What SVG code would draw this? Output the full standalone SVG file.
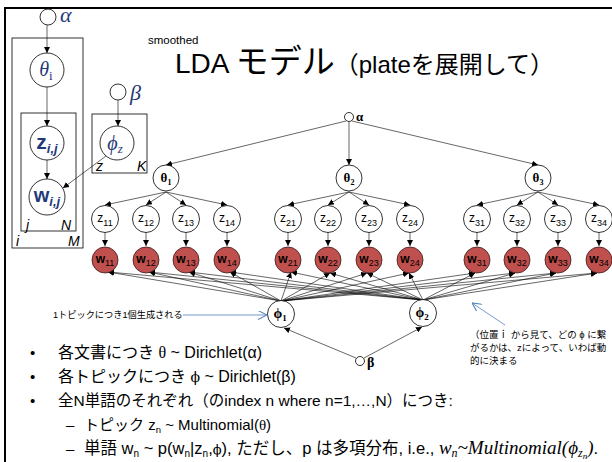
<svg xmlns="http://www.w3.org/2000/svg" width="612" height="462" viewBox="0 0 612 462">
<defs>
<marker id="ah" viewBox="0 0 10 10" refX="10" refY="5" markerWidth="6" markerHeight="6" markerUnits="userSpaceOnUse" orient="auto"><path d="M0,0 L10,5 L0,10 z" fill="#000"/></marker>
<marker id="oa" viewBox="0 0 10 10" refX="10" refY="5" markerWidth="9" markerHeight="9" markerUnits="userSpaceOnUse" orient="auto"><path d="M0,0 L10,5 L0,10" fill="none" stroke="#4F81BD" stroke-width="1.2"/></marker>
</defs>
<style>
.n{fill:#fff;stroke:#000;stroke-width:0.8}
.w{fill:#C0504D;stroke:#3a1a1a;stroke-width:0.8}
.pl{fill:none;stroke:#000;stroke-width:0.8}
.c{stroke:#000;stroke-width:0.6;fill:none;marker-end:url(#ah)}
.blue{stroke:#4F81BD;stroke-width:0.8;fill:none;marker-end:url(#oa)}
.gk{font-family:"Liberation Serif","DejaVu Serif",serif;font-weight:bold;fill:#000}
.zt{font-family:"Liberation Sans","Noto Sans CJK JP",sans-serif;fill:#000}
.pg{font-family:"Liberation Serif","DejaVu Serif",serif;font-style:italic;fill:#1F3A78}
.ps{font-family:"Liberation Sans",sans-serif;font-weight:bold;fill:#1F3A78}
.lb{font-family:"Liberation Sans",sans-serif;font-style:italic;font-size:14px;fill:#000}
.tx{font-family:"Liberation Sans","Noto Sans CJK JP",sans-serif;fill:#000}
.m{font-family:"Liberation Serif","DejaVu Serif",serif;font-style:italic}
</style>
<rect width="612" height="462" fill="#fff"/>
<path d="M5,470 V8 H620" fill="none" stroke="#000" stroke-width="2"/>

<g id="plate-diagram">
<rect class="pl" x="12" y="38" width="71" height="210"/>
<rect class="pl" x="21" y="113" width="55" height="118"/>
<rect class="pl" x="92" y="114" width="55" height="59"/>
<text class="lb" x="16" y="246">i</text>
<text class="lb" x="68" y="246">M</text>
<text class="lb" x="26" y="230">j</text>
<text class="lb" x="61" y="230">N</text>
<text class="lb" x="96" y="171">z</text>
<text class="lb" x="137" y="171">K</text>
<g id="p-alpha"><circle class="n" cx="48" cy="17" r="8"/><text class="pg" x="60" y="22" font-size="22">α</text></g>
<g id="p-theta"><circle class="n" cx="47" cy="70" r="17"/><text class="pg" x="46" y="76" font-size="20" text-anchor="middle">θ<tspan font-size="13" font-style="normal" dy="4">i</tspan></text></g>
<g id="p-z"><circle class="n" cx="47" cy="143" r="17"/><text class="ps" x="47" y="149" font-size="21" text-anchor="middle">z<tspan font-size="13" font-style="italic" dy="4">i,j</tspan></text></g>
<g id="p-w"><circle class="n" cx="47" cy="197" r="18"/><text class="ps" x="47" y="202" font-size="20" text-anchor="middle" font-weight="normal">w<tspan font-size="13" font-style="italic" dy="4">i,j</tspan></text></g>
<g id="p-beta"><circle class="n" cx="118" cy="92" r="8"/><text class="pg" x="130" y="100" font-size="22">β</text></g>
<g id="p-phi"><circle class="n" cx="117" cy="143" r="17"/><text class="pg" x="115" y="150" font-size="20" text-anchor="middle" font-family="DejaVu Serif">ϕ<tspan font-size="13" dy="3">z</tspan></text></g>
<g id="p-edges">
<line class="c" x1="47" y1="25" x2="47" y2="53"/>
<line class="c" x1="47" y1="87" x2="47" y2="126"/>
<line class="c" x1="47" y1="160" x2="47" y2="179"/>
<line class="c" x1="118" y1="100" x2="118" y2="126"/>
<line class="c" x1="106" y1="156" x2="63" y2="188"/>
</g>
</g>

<g id="title">
<text class="tx" x="148" y="44" font-size="11.5">smoothed</text>
<text class="tx" x="175" y="73" font-size="28">LDA <tspan font-size="33">モデル</tspan><tspan font-size="24">（plateを展開して）</tspan></text>
</g>

<g id="connectors">
<line class="c" x1="346" y1="121" x2="166" y2="165"/>
<line class="c" x1="349" y1="122" x2="349" y2="165"/>
<line class="c" x1="352" y1="121" x2="538" y2="165"/>
<line class="c" x1="166" y1="192" x2="105" y2="205"/>
<line class="c" x1="166" y1="192" x2="146" y2="205"/>
<line class="c" x1="166" y1="192" x2="186" y2="205"/>
<line class="c" x1="166" y1="192" x2="227" y2="205"/>
<line class="c" x1="349" y1="192" x2="288" y2="205"/>
<line class="c" x1="349" y1="192" x2="328" y2="205"/>
<line class="c" x1="349" y1="192" x2="369" y2="205"/>
<line class="c" x1="349" y1="192" x2="410" y2="205"/>
<line class="c" x1="538" y1="192" x2="477" y2="205"/>
<line class="c" x1="538" y1="192" x2="517" y2="205"/>
<line class="c" x1="538" y1="192" x2="558" y2="205"/>
<line class="c" x1="538" y1="192" x2="599" y2="205"/>
<g id="zw">
<line class="c" x1="105" y1="232" x2="105" y2="246"/>
<line class="c" x1="146" y1="232" x2="146" y2="246"/>
<line class="c" x1="186" y1="232" x2="186" y2="246"/>
<line class="c" x1="227" y1="232" x2="227" y2="246"/>
<line class="c" x1="288" y1="232" x2="288" y2="246"/>
<line class="c" x1="328" y1="232" x2="328" y2="246"/>
<line class="c" x1="369" y1="232" x2="369" y2="246"/>
<line class="c" x1="410" y1="232" x2="410" y2="246"/>
<line class="c" x1="477" y1="232" x2="477" y2="246"/>
<line class="c" x1="517" y1="232" x2="517" y2="246"/>
<line class="c" x1="558" y1="232" x2="558" y2="246"/>
<line class="c" x1="599" y1="232" x2="599" y2="246"/>
</g>
<g id="phi1-w">
<line class="c" x1="281" y1="301" x2="108" y2="272"/>
<line class="c" x1="281" y1="301" x2="149" y2="272"/>
<line class="c" x1="281" y1="301" x2="189" y2="272"/>
<line class="c" x1="281" y1="301" x2="230" y2="272"/>
<line class="c" x1="281" y1="301" x2="291" y2="272"/>
<line class="c" x1="281" y1="301" x2="330" y2="273"/>
<line class="c" x1="281" y1="301" x2="367" y2="273"/>
<line class="c" x1="281" y1="301" x2="409" y2="273"/>
<line class="c" x1="281" y1="301" x2="475" y2="273"/>
<line class="c" x1="281" y1="301" x2="515" y2="273"/>
<line class="c" x1="281" y1="301" x2="556" y2="273"/>
<line class="c" x1="281" y1="301" x2="597" y2="273"/>
</g>
<g id="phi2-w">
<line class="c" x1="423" y1="300" x2="108" y2="272"/>
<line class="c" x1="423" y1="300" x2="149" y2="272"/>
<line class="c" x1="423" y1="300" x2="189" y2="272"/>
<line class="c" x1="423" y1="300" x2="230" y2="272"/>
<line class="c" x1="423" y1="300" x2="291" y2="272"/>
<line class="c" x1="423" y1="300" x2="330" y2="273"/>
<line class="c" x1="423" y1="300" x2="367" y2="273"/>
<line class="c" x1="423" y1="300" x2="409" y2="273"/>
<line class="c" x1="423" y1="300" x2="475" y2="273"/>
<line class="c" x1="423" y1="300" x2="515" y2="273"/>
<line class="c" x1="423" y1="300" x2="556" y2="273"/>
<line class="c" x1="423" y1="300" x2="597" y2="273"/>
</g>
<line class="c" x1="356" y1="358" x2="284" y2="328"/>
<line class="c" x1="364" y1="358" x2="422" y2="327"/>
<line class="blue" x1="183" y1="315" x2="267" y2="315"/>
<line class="blue" x1="505" y1="325" x2="472" y2="303"/>
</g>

<g id="alpha"><circle class="n" cx="349" cy="117" r="4.5"/><text class="gk" x="356" y="121" font-size="13">α</text></g>
<g id="theta1"><circle class="n" cx="166" cy="178" r="13"/><text class="gk" x="166" y="182" font-size="13" text-anchor="middle">θ<tspan font-size="8" dy="3">1</tspan></text></g>
<g id="theta2"><circle class="n" cx="349" cy="178" r="13"/><text class="gk" x="349" y="182" font-size="13" text-anchor="middle">θ<tspan font-size="8" dy="3">2</tspan></text></g>
<g id="theta3"><circle class="n" cx="538" cy="178" r="13"/><text class="gk" x="538" y="182" font-size="13" text-anchor="middle">θ<tspan font-size="8" dy="3">3</tspan></text></g>

<g id="z11"><circle class="n" cx="105" cy="219" r="13.5"/><text class="zt" x="105" y="222" font-size="12" text-anchor="middle">z<tspan font-size="9" dy="4">11</tspan></text></g>
<g id="z12"><circle class="n" cx="146" cy="219" r="13.5"/><text class="zt" x="146" y="222" font-size="12" text-anchor="middle">z<tspan font-size="9" dy="4">12</tspan></text></g>
<g id="z13"><circle class="n" cx="186" cy="219" r="13.5"/><text class="zt" x="186" y="222" font-size="12" text-anchor="middle">z<tspan font-size="9" dy="4">13</tspan></text></g>
<g id="z14"><circle class="n" cx="227" cy="219" r="13.5"/><text class="zt" x="227" y="222" font-size="12" text-anchor="middle">z<tspan font-size="9" dy="4">14</tspan></text></g>
<g id="z21"><circle class="n" cx="288" cy="219" r="13.5"/><text class="zt" x="288" y="222" font-size="12" text-anchor="middle">z<tspan font-size="9" dy="4">21</tspan></text></g>
<g id="z22"><circle class="n" cx="328" cy="219" r="13.5"/><text class="zt" x="328" y="222" font-size="12" text-anchor="middle">z<tspan font-size="9" dy="4">22</tspan></text></g>
<g id="z23"><circle class="n" cx="369" cy="219" r="13.5"/><text class="zt" x="369" y="222" font-size="12" text-anchor="middle">z<tspan font-size="9" dy="4">23</tspan></text></g>
<g id="z24"><circle class="n" cx="410" cy="219" r="13.5"/><text class="zt" x="410" y="222" font-size="12" text-anchor="middle">z<tspan font-size="9" dy="4">24</tspan></text></g>
<g id="z31"><circle class="n" cx="477" cy="219" r="13.5"/><text class="zt" x="477" y="222" font-size="12" text-anchor="middle">z<tspan font-size="9" dy="4">31</tspan></text></g>
<g id="z32"><circle class="n" cx="517" cy="219" r="13.5"/><text class="zt" x="517" y="222" font-size="12" text-anchor="middle">z<tspan font-size="9" dy="4">32</tspan></text></g>
<g id="z33"><circle class="n" cx="558" cy="219" r="13.5"/><text class="zt" x="558" y="222" font-size="12" text-anchor="middle">z<tspan font-size="9" dy="4">33</tspan></text></g>
<g id="z34"><circle class="n" cx="599" cy="219" r="13.5"/><text class="zt" x="599" y="222" font-size="12" text-anchor="middle">z<tspan font-size="9" dy="4">34</tspan></text></g>

<g id="w11"><circle class="w" cx="105" cy="260" r="13"/><text class="zt" x="105" y="263" font-size="12" text-anchor="middle" font-weight="bold">w<tspan font-size="9" font-weight="normal" dy="3">11</tspan></text></g>
<g id="w12"><circle class="w" cx="146" cy="260" r="13"/><text class="zt" x="146" y="263" font-size="12" text-anchor="middle" font-weight="bold">w<tspan font-size="9" font-weight="normal" dy="3">12</tspan></text></g>
<g id="w13"><circle class="w" cx="186" cy="260" r="13"/><text class="zt" x="186" y="263" font-size="12" text-anchor="middle" font-weight="bold">w<tspan font-size="9" font-weight="normal" dy="3">13</tspan></text></g>
<g id="w14"><circle class="w" cx="227" cy="260" r="13"/><text class="zt" x="227" y="263" font-size="12" text-anchor="middle" font-weight="bold">w<tspan font-size="9" font-weight="normal" dy="3">14</tspan></text></g>
<g id="w21"><circle class="w" cx="288" cy="260" r="13"/><text class="zt" x="288" y="263" font-size="12" text-anchor="middle" font-weight="bold">w<tspan font-size="9" font-weight="normal" dy="3">21</tspan></text></g>
<g id="w22"><circle class="w" cx="328" cy="260" r="13"/><text class="zt" x="328" y="263" font-size="12" text-anchor="middle" font-weight="bold">w<tspan font-size="9" font-weight="normal" dy="3">22</tspan></text></g>
<g id="w23"><circle class="w" cx="369" cy="260" r="13"/><text class="zt" x="369" y="263" font-size="12" text-anchor="middle" font-weight="bold">w<tspan font-size="9" font-weight="normal" dy="3">23</tspan></text></g>
<g id="w24"><circle class="w" cx="410" cy="260" r="13"/><text class="zt" x="410" y="263" font-size="12" text-anchor="middle" font-weight="bold">w<tspan font-size="9" font-weight="normal" dy="3">24</tspan></text></g>
<g id="w31"><circle class="w" cx="477" cy="260" r="13"/><text class="zt" x="477" y="263" font-size="12" text-anchor="middle" font-weight="bold">w<tspan font-size="9" font-weight="normal" dy="3">31</tspan></text></g>
<g id="w32"><circle class="w" cx="517" cy="260" r="13"/><text class="zt" x="517" y="263" font-size="12" text-anchor="middle" font-weight="bold">w<tspan font-size="9" font-weight="normal" dy="3">32</tspan></text></g>
<g id="w33"><circle class="w" cx="558" cy="260" r="13"/><text class="zt" x="558" y="263" font-size="12" text-anchor="middle" font-weight="bold">w<tspan font-size="9" font-weight="normal" dy="3">33</tspan></text></g>
<g id="w34"><circle class="w" cx="599" cy="260" r="13"/><text class="zt" x="599" y="263" font-size="12" text-anchor="middle" font-weight="bold">w<tspan font-size="9" font-weight="normal" dy="3">34</tspan></text></g>

<g id="phi1"><circle class="n" cx="281" cy="314" r="13.5"/><text class="gk" x="280" y="318" font-size="14" text-anchor="middle" font-family="DejaVu Serif">ϕ<tspan font-size="9" dy="3">1</tspan></text></g>
<g id="phi2"><circle class="n" cx="423" cy="313" r="13.5"/><text class="gk" x="422" y="317" font-size="14" text-anchor="middle" font-family="DejaVu Serif">ϕ<tspan font-size="9" dy="3">2</tspan></text></g>
<g id="beta"><circle class="n" cx="360" cy="361" r="4.5"/><text class="gk" x="367" y="367" font-size="14">β</text></g>

<g id="note-left"><text class="tx" x="53" y="318" font-size="9.2">1トピックにつき1個生成される</text></g>
<g id="note-right">
<text class="tx" x="470" y="338" font-size="9.5">（位置ｉ から見て、どの ϕ に繋</text>
<text class="tx" x="470" y="351" font-size="9.5">がるかは、zによって、いわば動</text>
<text class="tx" x="470" y="364" font-size="9.5">的に決まる</text>
</g>

<g id="bullets">
<text class="tx" x="30" y="358" font-size="15">•</text>
<text class="tx" x="58" y="358" font-size="16">各文書につき <tspan font-family="Liberation Serif">θ</tspan> ~ Dirichlet(α)</text>
<text class="tx" x="30" y="382" font-size="15">•</text>
<text class="tx" x="58" y="382" font-size="16">各トピックにつき <tspan font-family="DejaVu Serif" font-size="14">ϕ</tspan> ~ Dirichlet(β)</text>
<text class="tx" x="30" y="406" font-size="15">•</text>
<text class="tx" x="58" y="406" font-size="15.5">全N単語のそれぞれ（のindex n where n=1,…,N）につき:</text>
<text class="tx" x="66" y="430" font-size="15">–</text>
<text class="tx" x="84" y="430" font-size="15">トピック z<tspan font-size="9.5" dy="3">n</tspan><tspan dy="-3"> ~ Multinomial(</tspan><tspan font-family="Liberation Serif">θ</tspan>)</text>
<text class="tx" x="66" y="454" font-size="15">–</text>
<text class="tx" x="84" y="454" font-size="16.5">単語 w<tspan font-size="10" dy="3">n</tspan><tspan dy="-3"> ~ p(w</tspan><tspan font-size="10" dy="3">n</tspan><tspan dy="-3">|z</tspan><tspan font-size="10" dy="3">n</tspan><tspan dy="-3">,</tspan><tspan font-family="DejaVu Serif" font-size="13">ϕ</tspan>), ただし、p は多項分布, i.e., <tspan class="m" font-size="19">w</tspan><tspan class="m" font-size="12" dy="3">n</tspan><tspan class="m" font-size="19" dy="-3">~Multinomial(ϕ</tspan><tspan class="m" font-size="12" dy="3">z</tspan><tspan class="m" font-size="9" dy="2">n</tspan><tspan class="m" font-size="19" dy="-5">)</tspan>.</text>
</g>
</svg>
